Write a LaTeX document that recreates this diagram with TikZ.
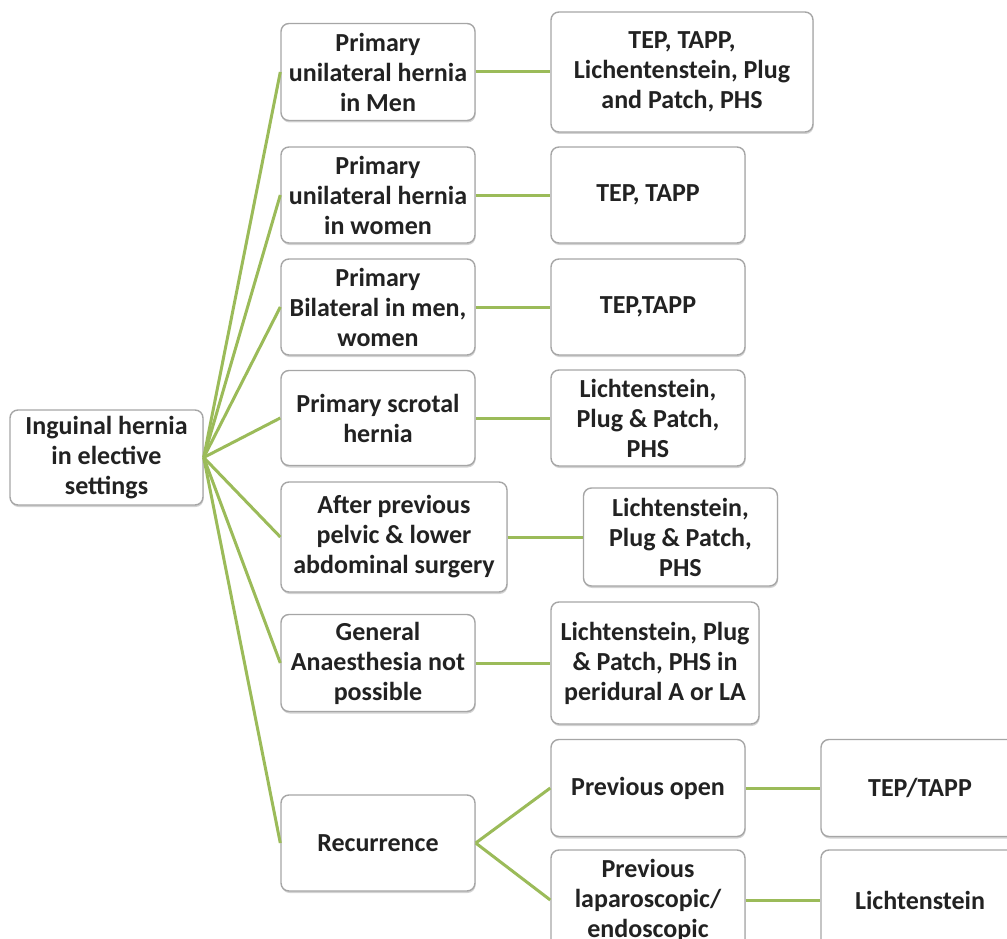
\documentclass[tikz,border=0pt]{standalone}
\usepackage{fontspec}
\setmainfont{Carlito}
\usetikzlibrary{shadows}
\definecolor{linkgreen}{HTML}{9BBB59}
\definecolor{boxborder}{HTML}{A6A6A6}
\definecolor{txt}{HTML}{222222}
\tikzset{
  box/.style={draw=boxborder, line width=1.4pt, rounded corners=8pt, fill=white,
    align=center, inner sep=0pt, text=txt,
    font=\fontsize{26}{30}\selectfont\bfseries,
    drop shadow={shadow xshift=0.6pt, shadow yshift=-2pt, opacity=0.35, fill=gray}},
  link/.style={draw=linkgreen, line width=3pt}
}
\begin{document}
\begin{tikzpicture}[x=1pt,y=1pt]
\useasboundingbox (0,0) rectangle (1007,-939);
\clip (0,0) rectangle (1007,-939);
% root
\node[box, minimum width=193pt, minimum height=95pt] (root) at (106.5,-457.5) {Inguinal hernia\\in elective\\settings};
% column 1
\node[box, minimum width=194pt, minimum height=97pt] (c1) at (378,-72) {Primary\\unilateral hernia\\in Men};
\node[box, minimum width=194pt, minimum height=96pt] (c2) at (378,-195) {Primary\\unilateral hernia\\in women};
\node[box, minimum width=194pt, minimum height=96pt] (c3) at (378,-307) {Primary\\Bilateral in men,\\women};
\node[box, minimum width=194pt, minimum height=95pt] (c4) at (378,-418) {Primary scrotal\\hernia};
\node[box, minimum width=226pt, minimum height=110pt] (c5) at (394,-537) {After previous\\pelvic \& lower\\abdominal surgery};
\node[box, minimum width=194pt, minimum height=97pt] (c6) at (378,-663) {General\\Anaesthesia not\\possible};
\node[box, minimum width=194pt, minimum height=96pt] (c7) at (378,-843) {Recurrence};
% column 2
\node[box, minimum width=262pt, minimum height=120pt] (d1) at (682,-72) {TEP, TAPP,\\Lichentenstein, Plug\\and Patch, PHS};
\node[box, minimum width=194pt, minimum height=96pt] (d2) at (648,-195) {TEP, TAPP};
\node[box, minimum width=194pt, minimum height=96pt] (d3) at (648,-307) {TEP,TAPP};
\node[box, minimum width=194pt, minimum height=96pt] (d4) at (648,-418) {Lichtenstein,\\Plug \& Patch,\\PHS};
\node[box, minimum width=194pt, minimum height=98pt] (d5) at (680.5,-537) {Lichtenstein,\\Plug \& Patch,\\PHS};
\node[box, minimum width=208pt, minimum height=122pt] (d6) at (655,-663) {Lichtenstein, Plug\\\& Patch, PHS in\\peridural A or LA};
\node[box, minimum width=194pt, minimum height=97pt] (d7a) at (648,-788) {Previous open};
\node[box, minimum width=194pt, minimum height=100pt] (d7b) at (648,-900) {Previous\\laparoscopic/\\endoscopic};
% column 3
\node[box, minimum width=198pt, minimum height=97pt] (e1) at (920,-788) {TEP/TAPP};
\node[box, minimum width=198pt, minimum height=100pt] (e2) at (920,-900) {Lichtenstein};
% connectors
\foreach \n in {c1,c2,c3,c4,c5,c6,c7} \draw[link] (root.east) -- (\n.west);
\foreach \a/\b in {c1/d1,c2/d2,c3/d3,c4/d4,c5/d5,c6/d6,c7/d7a,c7/d7b,d7a/e1,d7b/e2}
  \draw[link] (\a.east) -- (\b.west);
\end{tikzpicture}
\end{document}
